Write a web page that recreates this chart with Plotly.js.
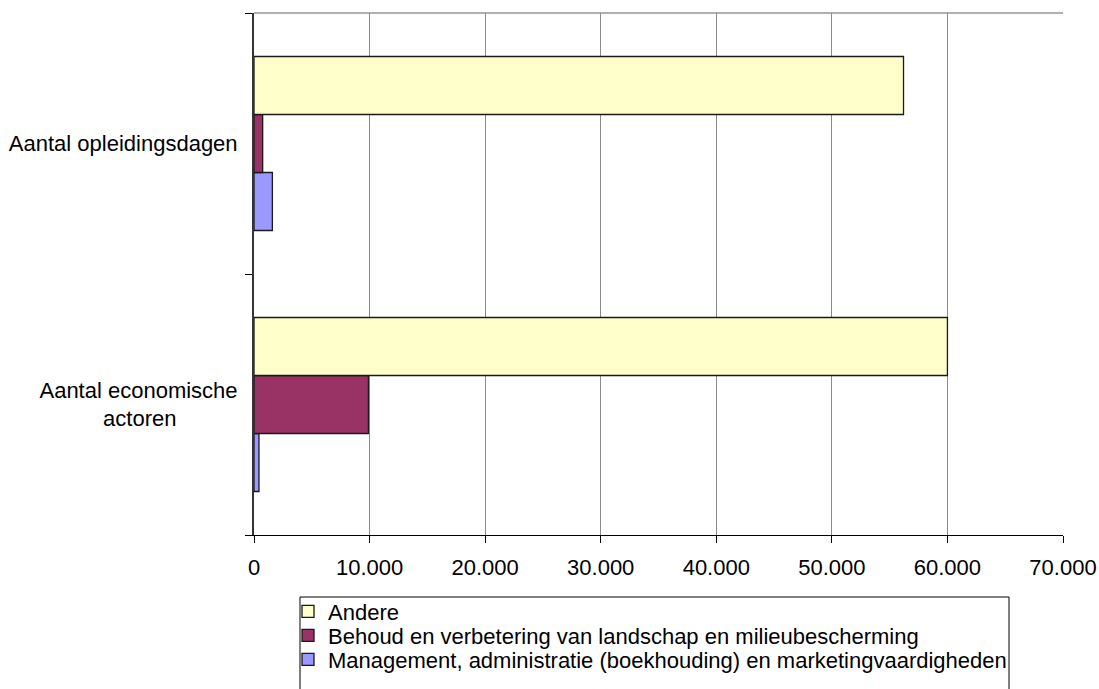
<!DOCTYPE html>
<html>
<head>
<meta charset="utf-8">
<script src="https://cdn.plot.ly/plotly-3.0.1.min.js"></script>
<style>html,body{margin:0;padding:0;background:#fff;}#chart{width:1099px;height:689px;}</style>
</head>
<body>
<div id="chart"></div>
<script>
// categories listed bottom to top
const NB = '\u00A0';
const categories = ['Aantal economische<br>actoren' + NB.repeat(10), 'Aantal opleidingsdagen'];
const andere = [60000, 56200];
const behoud = [9900, 750];
const management = [430, 1590];
const seriesNames = [
  'Andere',
  'Behoud en verbetering van landschap en milieubescherming',
  'Management, administratie (boekhouding) en marketingvaardigheden'
];
const xTickVals = [0, 10000, 20000, 30000, 40000, 50000, 60000, 70000];
const xTickText = ['0', '10.000', '20.000', '30.000', '40.000', '50.000', '60.000', '70.000'];

const lineStyle = {color: '#1a1a1a', width: 1.3};
const traces = [
  {type: 'bar', orientation: 'h', name: seriesNames[2], y: categories, x: management,
   marker: {color: '#9999FF', line: lineStyle}, legend: 'legend3'},
  {type: 'bar', orientation: 'h', name: seriesNames[1], y: categories, x: behoud,
   marker: {color: '#993366', line: lineStyle}, legend: 'legend2'},
  {type: 'bar', orientation: 'h', name: seriesNames[0], y: categories, x: andere,
   marker: {color: '#FFFFCC', line: lineStyle}, legend: 'legend'}
];

// plot area in pixels: x 254..1063, y 13..535
const px = v => (v - 254) / 809;
const py = v => (535 - v) / 522;
const FS = 22;

const legendBase = top => ({
  x: px(288), y: py(top), xanchor: 'left', yanchor: 'top',
  orientation: 'v', borderwidth: 0, bgcolor: 'rgba(0,0,0,0)',
  font: {size: FS}, itemwidth: 30
});

const layout = {
  width: 1099, height: 689,
  margin: {l: 254, r: 36, t: 13, b: 154, pad: 0, autoexpand: false},
  paper_bgcolor: '#fff', plot_bgcolor: '#fff',
  barmode: 'group', bargap: 1/3, bargroupgap: 0,
  font: {family: 'Liberation Sans, Arial, sans-serif', size: FS, color: '#000'},
  showlegend: true,
  hovermode: false,
  xaxis: {
    range: [0, 70000], tickvals: xTickVals, ticktext: xTickText,
    showgrid: true, gridcolor: '#8a8a8a', gridwidth: 1,
    zeroline: false,
    showline: true, linecolor: '#000', linewidth: 1,
    ticks: 'outside', ticklen: 7, tickcolor: '#000',
    tickfont: {size: FS}, ticklabelstandoff: 6, fixedrange: true
  },
  yaxis: {
    type: 'category',
    showgrid: false, zeroline: false,
    showline: true, linecolor: '#333', linewidth: 2,
    ticks: 'outside', tickson: 'boundaries', ticklen: 7, tickcolor: '#000',
    tickfont: {size: FS}, ticklabelstandoff: 10, fixedrange: true
  },
  shapes: [
    {type: 'line', xref: 'paper', yref: 'paper', x0: 0, x1: 1, y0: 1, y1: 1,
     line: {color: '#b0b0b0', width: 2}, layer: 'below'},
    {type: 'rect', xref: 'paper', yref: 'paper',
     x0: px(300), x1: px(1009), y0: py(597), y1: py(700),
     line: {color: '#000', width: 1}, fillcolor: 'rgba(0,0,0,0)', layer: 'above'}
  ],
  legend: legendBase(590.5),
  legend2: legendBase(614.5),
  legend3: legendBase(638.5)
};

Plotly.newPlot('chart', traces, layout, {displayModeBar: false, staticPlot: true});
</script>
</body>
</html>
